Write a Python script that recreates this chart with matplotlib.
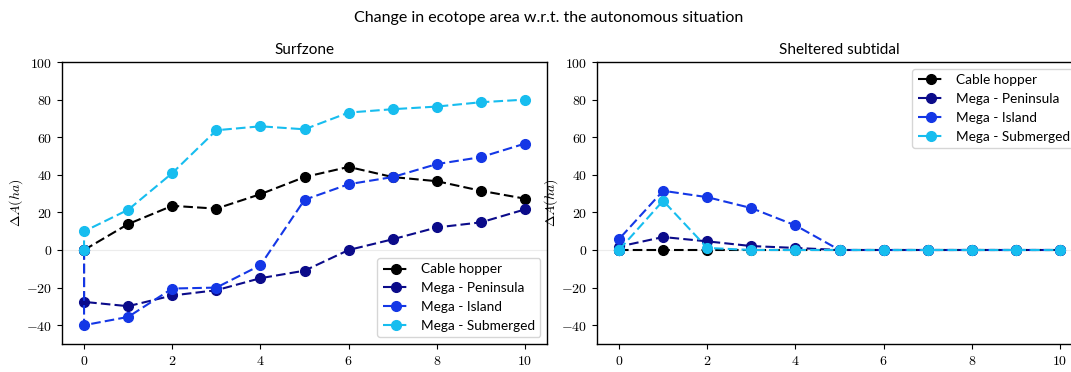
import matplotlib
matplotlib.use("Agg")
import matplotlib.pyplot as plt
from matplotlib.ticker import FuncFormatter

plt.rcParams['mathtext.fontset'] = 'cm'
plt.rcParams['font.family'] = ['Lato', 'DejaVu Sans']

steps = list(range(11))
baseline = 0.0

series_names = ["Cable hopper", "Mega - Peninsula", "Mega - Island", "Mega - Submerged"]
colors = ["#000000", "#0b0b8a", "#1437e6", "#17bdef"]

surf_cable = [0, 13.8, 23.5, 22.0, 29.7, 38.8, 44.2, 38.8, 36.6, 31.5, 27.3]
surf_peninsula = [-27.6, -29.9, -24.2, -21.4, -15.0, -11.0, 0.0, 5.7, 12.0, 14.7, 21.6]
surf_island = [-40.0, -35.6, -20.5, -20.0, -8.1, 26.7, 35.0, 38.8, 45.7, 49.4, 56.6]
surf_submerged = [9.9, 21.4, 40.9, 63.7, 65.8, 64.2, 73.1, 74.9, 76.3, 78.6, 80.0]

shel_cable = [0, 0, 0, 0, 0, 0, 0, 0, 0, 0, 0]
shel_peninsula = [1.8, 6.9, 4.6, 2.1, 1.1, 0, 0, 0, 0, 0, 0]
shel_island = [5.8, 31.5, 28.1, 22.3, 13.1, 0, 0, 0, 0, 0, 0]
shel_submerged = [0, 26.2, 1.1, 0, 0, 0, 0, 0, 0, 0, 0]

panels = [
    ("Surfzone", [surf_cable, surf_peninsula, surf_island, surf_submerged], "lower right"),
    ("Sheltered subtidal", [shel_cable, shel_peninsula, shel_island, shel_submerged], "upper right"),
]

fig = plt.figure(figsize=(10.71, 3.72), dpi=100)
ax_rects = [[0.0579, 0.0753, 0.4529, 0.758], [0.5574, 0.0753, 0.4529, 0.758]]

fmt = FuncFormatter(lambda v, p: r"$%g$" % v)

for rect, (title, data, loc) in zip(ax_rects, panels):
    ax = fig.add_axes(rect)
    ax.axhline(0, color="#ececec", lw=0.8, zorder=0)
    for name, col, vals in zip(series_names, colors, data):
        ax.plot([0] + steps, [baseline] + vals, ls=(0, (4.6, 2.0)), marker="o", color=col,
                lw=1.5, ms=7, label=name)
    ax.set_xlim(-0.5, 10.5)
    ax.set_ylim(-50, 100)
    ax.set_xticks([0, 2, 4, 6, 8, 10])
    ax.set_yticks([-40, -20, 0, 20, 40, 60, 80, 100])
    ax.xaxis.set_major_formatter(fmt)
    ax.yaxis.set_major_formatter(fmt)
    ax.tick_params(labelsize=10)
    for s in ax.spines.values():
        s.set_linewidth(1.0)
    ax.set_title(title, fontsize=11)
    ax.set_ylabel(r"$\Delta A (ha)$", fontsize=10, labelpad=1)
    ax.legend(loc=loc, fontsize=9.8, handlelength=2.0, labelspacing=0.5)

fig.suptitle("Change in ecotope area w.r.t. the autonomous situation", fontsize=11.5,
             x=0.512, y=0.97)

fig.savefig("out.png", dpi=100)
